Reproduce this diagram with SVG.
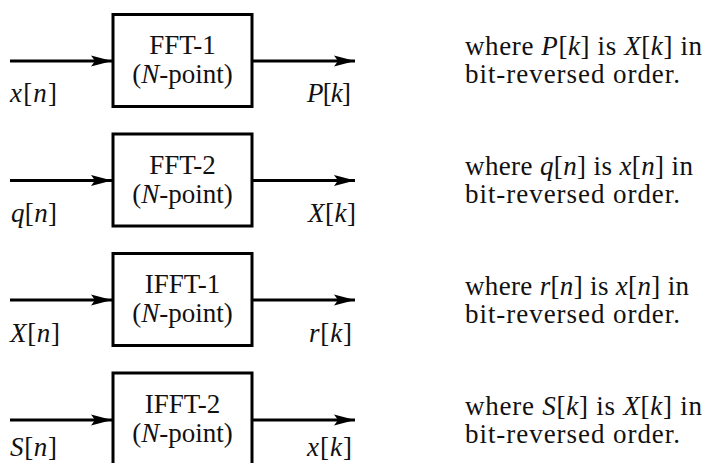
<svg xmlns="http://www.w3.org/2000/svg" width="704" height="463" viewBox="0 0 704 463">
<defs>
<marker id="ah" markerWidth="22" markerHeight="12" refX="21" refY="6" orient="auto" markerUnits="userSpaceOnUse">
<path d="M0,0.5 L21,6 L0,11.5 L4,6 Z" fill="#000"/>
</marker>
<style>
text{font-family:"Liberation Serif","Times New Roman",serif;fill:#111;font-size:27px}
.bx{fill:#fff;stroke:#000;stroke-width:3}
.ln{stroke:#000;stroke-width:3;fill:none}
.t{text-anchor:middle}
.i{font-style:italic}
</style>
</defs>
<g id="connectors">
<line class="ln" x1="10" y1="61" x2="112" y2="61" marker-end="url(#ah)"/>
<line class="ln" x1="253" y1="61" x2="355" y2="61" marker-end="url(#ah)"/>
<line class="ln" x1="10" y1="180.5" x2="112" y2="180.5" marker-end="url(#ah)"/>
<line class="ln" x1="253" y1="180.5" x2="355" y2="180.5" marker-end="url(#ah)"/>
<line class="ln" x1="10" y1="300" x2="112" y2="300" marker-end="url(#ah)"/>
<line class="ln" x1="253" y1="300" x2="355" y2="300" marker-end="url(#ah)"/>
<line class="ln" x1="10" y1="420" x2="112" y2="420" marker-end="url(#ah)"/>
<line class="ln" x1="253" y1="420" x2="355" y2="420" marker-end="url(#ah)"/>
</g>
<g id="fft1">
<rect class="bx" x="113" y="14.5" width="139" height="92"/>
<text class="t" x="182.5" y="54">FFT-1</text>
<text class="t" x="182.5" y="83">(<tspan class="i">N</tspan>-point)</text>
</g>
<g id="fft2">
<rect class="bx" x="113" y="134" width="139" height="92"/>
<text class="t" x="182.5" y="173.5">FFT-2</text>
<text class="t" x="182.5" y="202.5">(<tspan class="i">N</tspan>-point)</text>
</g>
<g id="ifft1">
<rect class="bx" x="113" y="253.5" width="139" height="92"/>
<text class="t" x="182.5" y="293">IFFT-1</text>
<text class="t" x="182.5" y="322">(<tspan class="i">N</tspan>-point)</text>
</g>
<g id="ifft2">
<rect class="bx" x="113" y="373" width="139" height="92"/>
<text class="t" x="182.5" y="412.5">IFFT-2</text>
<text class="t" x="182.5" y="441.5">(<tspan class="i">N</tspan>-point)</text>
</g>
<g id="labels">
<text x="10" y="102" textLength="47"><tspan class="i">x</tspan>[<tspan class="i">n</tspan>]</text>
<text x="307" y="102" textLength="44"><tspan class="i">P</tspan>[<tspan class="i">k</tspan>]</text>
<text x="11" y="222" textLength="46"><tspan class="i">q</tspan>[<tspan class="i">n</tspan>]</text>
<text x="308" y="222" textLength="48"><tspan class="i">X</tspan>[<tspan class="i">k</tspan>]</text>
<text x="10" y="342" textLength="50"><tspan class="i">X</tspan>[<tspan class="i">n</tspan>]</text>
<text x="309" y="342" textLength="43"><tspan class="i">r</tspan>[<tspan class="i">k</tspan>]</text>
<text x="10" y="456" textLength="47"><tspan class="i">S</tspan>[<tspan class="i">n</tspan>]</text>
<text x="307" y="456" textLength="45"><tspan class="i">x</tspan>[<tspan class="i">k</tspan>]</text>
</g>
<g id="notes">
<text x="465" y="55" textLength="237">where <tspan class="i">P</tspan>[<tspan class="i">k</tspan>] is <tspan class="i">X</tspan>[<tspan class="i">k</tspan>] in</text>
<text x="465" y="83" textLength="215">bit-reversed order.</text>
<text x="465" y="175" textLength="228">where <tspan class="i">q</tspan>[<tspan class="i">n</tspan>] is <tspan class="i">x</tspan>[<tspan class="i">n</tspan>] in</text>
<text x="465" y="203" textLength="215">bit-reversed order.</text>
<text x="465" y="295" textLength="224">where <tspan class="i">r</tspan>[<tspan class="i">n</tspan>] is <tspan class="i">x</tspan>[<tspan class="i">n</tspan>] in</text>
<text x="465" y="323" textLength="215">bit-reversed order.</text>
<text x="465" y="415" textLength="237">where <tspan class="i">S</tspan>[<tspan class="i">k</tspan>] is <tspan class="i">X</tspan>[<tspan class="i">k</tspan>] in</text>
<text x="465" y="443" textLength="215">bit-reversed order.</text>
</g>
</svg>
